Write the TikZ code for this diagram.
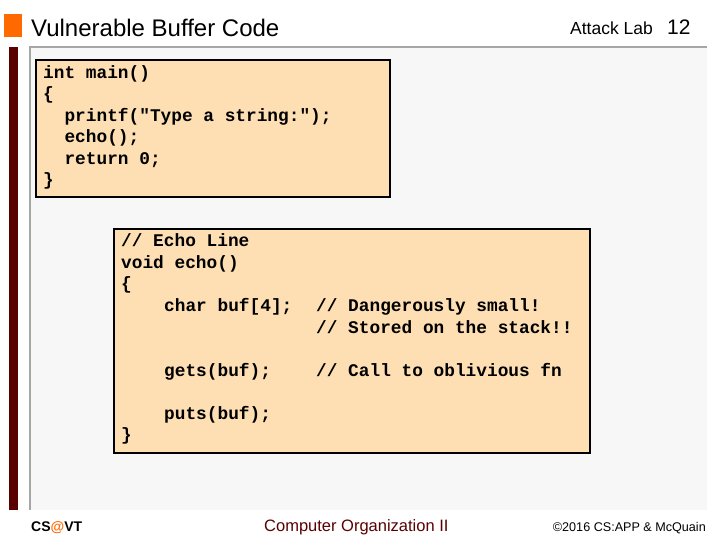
\documentclass[tikz,border=0pt]{standalone}
\usepackage{fontspec}
\setmainfont{Liberation Sans}
\newfontfamily\codef{Liberation Mono}
\definecolor{peach}{HTML}{FDDFB3}
\definecolor{orng}{HTML}{FF6A00}
\definecolor{dred}{HTML}{5A0000}
\definecolor{panel}{HTML}{F7F7F7}
\begin{document}
\begin{tikzpicture}[x=1pt,y=-1pt,
  code/.style={anchor=base west,inner sep=0pt,font=\codef\bfseries\fontsize{17.8}{20}\selectfont},
  box/.style={draw=black,line width=1.6pt,fill=peach}]
\useasboundingbox (0,0) rectangle (720,540);
\fill[white] (0,0) rectangle (720,540);
\fill[orng] (4,14) rectangle (22,37);
\fill[dred] (9,47) rectangle (18,510);
\fill[panel] (30,47) rectangle (707,510);
\draw[gray!70,line width=2pt] (30,510) -- (30,47) -- (707,47);
\node[anchor=base west,inner sep=0pt,font=\fontsize{24}{27}\selectfont] (title) at (31,37) {Vulnerable Buffer Code};
\node[anchor=base west,inner sep=0pt,font=\fontsize{17.5}{20}\selectfont] (lab) at (570,35) {Attack Lab};
\node[anchor=base west,inner sep=0pt,font=\fontsize{21}{24}\selectfont] (pg) at (667,35) {12};
\path[box] (36,60) rectangle (390,197);
\node[code] (a1) at (43,79) {int main()};
\node[code] (a2) at (43,100) {\{};
\node[code] (a3) at (43,122) {\ \ printf("Type a string:");};
\node[code] (a4) at (43,143) {\ \ echo();};
\node[code] (a5) at (43,165) {\ \ return 0;};
\node[code] (a6) at (43,186) {\}};
\path[box] (114,229) rectangle (590,453);
\node[code] (b1) at (121,246) {// Echo Line};
\node[code] (b2) at (121,268) {void echo()};
\node[code] (b3) at (121,289) {\{};
\node[code] (b4) at (164,311) {char buf[4];};
\node[code] (b5) at (316,311) {// Dangerously small!};
\node[code] (b6) at (316,333) {// Stored on the stack!!};
\node[code] (b7) at (164,376) {gets(buf);};
\node[code] (b8) at (316,376) {// Call to oblivious fn};
\node[code] (b9) at (164,419) {puts(buf);};
\node[code] (b10) at (121,440) {\}};
\node[anchor=base west,inner sep=0pt,font=\bfseries\fontsize{14}{16}\selectfont] (f1) at (31,531) {CS\textcolor{orng}{@}VT};
\node[anchor=base west,inner sep=0pt,text=dred,font=\fontsize{16.5}{19}\selectfont] (f2) at (264,531) {Computer Organization II};
\node[anchor=base east,inner sep=0pt,font=\fontsize{12.6}{15}\selectfont] (f3) at (706,531) {©2016 CS:APP \& McQuain};
\end{tikzpicture}
\end{document}
